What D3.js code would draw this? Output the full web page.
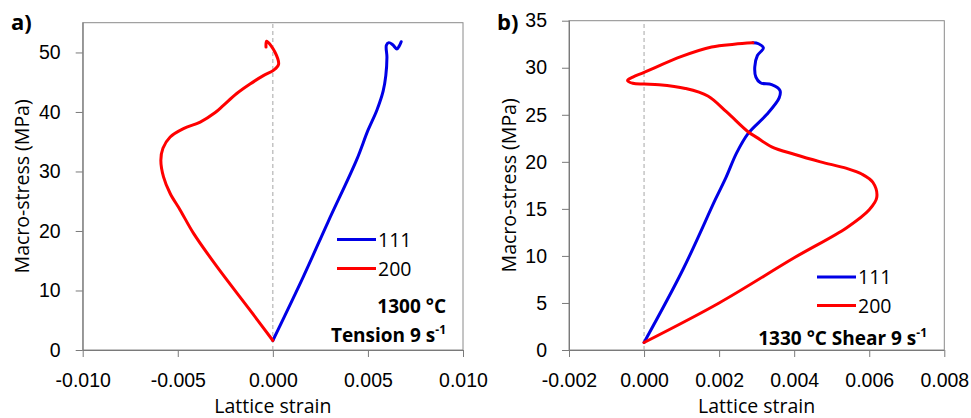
<!DOCTYPE html>
<html>
<head>
<meta charset="utf-8">
<script src="https://cdn.jsdelivr.net/npm/d3@7"></script>
<style>
  body { margin: 0; background: #fff; }
  svg { display: block; font-family: "Open Sans", sans-serif; }
  .tick text { font-size: 19.5px; fill: #000; }
</style>
</head>
<body>
<svg id="chart"></svg>
<script>
//SET CONSTANTS
const width = 971;
const height = 418;

// tick labels
const tensionXTicks = [-0.010, -0.005, 0.000, 0.005, 0.010];
const tensionYTicks = [0, 10, 20, 30, 40, 50];
const shearXTicks = [-0.002, 0.000, 0.002, 0.004, 0.006, 0.008];
const shearYTicks = [0, 5, 10, 15, 20, 25, 30, 35];

const seriesNames = ["111", "200"];

// a) tension 1300 C : [lattice strain, macro-stress MPa]
const tension111 = [
  [0.0000, 1.6], [0.0016, 12.3], [0.0029, 21.5], [0.0044, 31.9],
  [0.0050, 36.9], [0.00547, 40.3], [0.0058, 43.5], [0.00594, 46.1], [0.0060, 49.2],
  [0.00597, 51.2], [0.0061, 51.65], [0.0063, 51.3], [0.00652, 50.6], [0.00665, 51.1],
  [0.00675, 51.8]
];
const tension200 = [
  [0.0000, 1.6], [-0.0012, 6.7], [-0.00294, 14.0], [-0.00417, 19.6], [-0.00487, 23.5],
  [-0.0054, 26.3], [-0.00575, 29.1], [-0.00589, 31.9], [-0.00578, 33.9], [-0.0054, 35.8],
  [-0.0047, 37.2], [-0.00382, 38.3], [-0.00303, 39.9], [-0.0026, 41.1], [-0.0019, 43.1],
  [-0.0012, 44.7], [-0.0005, 46.1], [0.00003, 47.0], [0.0003, 48.0], [0.00012, 50.0],
  [-0.00033, 51.9], [-0.00036, 50.9]
];

// b) shear 1330 C
const shear111 = [
  [0.0000, 0.8], [0.00103, 8.5], [0.0019, 16.0], [0.00219, 18.4], [0.00246, 20.9],
  [0.00277, 23.0], [0.00326, 25.0], [0.0036, 26.8], [0.00362, 27.6], [0.0034, 28.2],
  [0.0031, 28.4], [0.00298, 29.0], [0.00295, 30.1], [0.00302, 31.3], [0.00318, 32.1],
  [0.00305, 32.55], [0.0029, 32.65]
];
const shear200 = [
  [0.0000, 0.8], [0.0020, 5.0], [0.0040, 9.8], [0.0054, 13.0], [0.0060, 14.9],
  [0.0062, 16.2], [0.0061, 17.8], [0.0058, 18.7], [0.0054, 19.3], [0.0047, 20.0],
  [0.0040, 20.8], [0.0034, 21.6], [0.0030, 22.6], [0.00277, 23.2], [0.0022, 25.3],
  [0.0017, 27.0], [0.0011, 27.8], [0.0004, 28.2], [0.0000, 28.27], [-0.0003, 28.35],
  [-0.00044, 28.65], [-0.0003, 29.0], [0.0000, 29.5], [0.0010, 31.2], [0.0018, 32.2],
  [0.0024, 32.5], [0.0029, 32.65]
];

const colors = {"111": "#0000e6", "200": "#ff0000"};

var chart = d3.select("#chart")
              .attr("width", width)
              .attr("height", height);

// one panel of the figure
function drawPanel(p) {
  var xScale = d3.scaleLinear().domain(p.xDomain).range([p.left, p.right]);
  var yScale = d3.scaleLinear().domain(p.yDomain).range([p.bottom, p.top]);

  var g = chart.append("g");

  //plot box
  g.append("rect")
    .attr("x", p.left)
    .attr("y", p.top)
    .attr("width", p.right - p.left)
    .attr("height", p.bottom - p.top)
    .style("fill", "none")
    .style("stroke", "#8a8a8a")
    .style("stroke-width", 1);

  //dashed zero line
  g.append("line")
    .attr("x1", xScale(0)).attr("x2", xScale(0))
    .attr("y1", yScale(p.yDomain[0])).attr("y2", yScale(p.yDomain[1]))
    .style("stroke", "#a6a6a6")
    .style("stroke-width", 1)
    .style("stroke-dasharray", "4,3");

  //axes
  var xAxis = g.append("g")
    .attr("transform", "translate(0," + p.bottom + ")")
    .call(d3.axisBottom(xScale).tickValues(p.xTicks).tickSize(7).tickPadding(16)
      .tickFormat((d) => d.toFixed(3)));
  var yAxis = g.append("g")
    .attr("transform", "translate(" + p.left + ",0)")
    .call(d3.axisLeft(yScale).tickValues(p.yTicks).tickSize(7).tickPadding(15)
      .tickFormat((d) => d));
  g.selectAll(".domain, .tick line").style("stroke", "#7a7a7a");
  xAxis.selectAll(".domain").attr("d", "M" + p.left + ",0.5H" + p.right);
  yAxis.selectAll(".domain").attr("d", "M0.5," + p.bottom + "V" + p.top);

  //axis titles
  g.append("text")
    .attr("x", (p.left + p.right) / 2)
    .attr("y", 413)
    .attr("text-anchor", "middle")
    .style("font-size", "19.5px")
    .text("Lattice strain");
  g.append("text")
    .attr("transform", "translate(" + p.yTitleX + "," + ((p.top + p.bottom) / 2) + ") rotate(-90)")
    .attr("text-anchor", "middle")
    .style("font-size", "19.5px")
    .text("Macro-stress (MPa)");

  //curves
  var line = d3.line()
    .x((d) => xScale(d[0]))
    .y((d) => yScale(d[1]))
    .curve(d3.curveCatmullRom.alpha(0.5));

  seriesNames.forEach(function(name, i) {
    g.append("path")
      .datum(p.series[i])
      .attr("d", line)
      .style("fill", "none")
      .style("stroke", colors[name])
      .style("stroke-width", 3)
      .style("stroke-linejoin", "round")
      .style("stroke-linecap", "round");

    //legend
    let ly = p.legendY + i * p.legendGap;
    g.append("line")
      .attr("x1", p.legendX).attr("x2", p.legendX + 39)
      .attr("y1", ly).attr("y2", ly)
      .style("stroke", colors[name])
      .style("stroke-width", 3);
    g.append("text")
      .attr("x", p.legendX + 41)
      .attr("y", ly + 7)
      .style("font-size", "19.5px")
      .text(name);
  });

  //panel letter
  g.append("text")
    .attr("x", p.labelX)
    .attr("y", p.labelY)
    .style("font-size", "22px")
    .style("font-weight", "bold")
    .text(p.label);

  //condition note
  p.notes.forEach(function(n) {
    var t = g.append("text")
      .attr("x", p.noteX)
      .attr("y", n.y)
      .attr("text-anchor", "end")
      .style("font-size", "19px")
      .style("font-weight", "bold")
      .text(n.text);
    if (n.sup) {
      t.append("tspan")
        .attr("dy", -8)
        .style("font-size", "12px")
        .text(n.sup);
    }
  });
}

drawPanel({
  label: "a)", labelX: 11, labelY: 30,
  left: 82.7, right: 463, top: 22.7, bottom: 350,
  xDomain: [-0.010, 0.010], yDomain: [0, 55],
  xTicks: tensionXTicks, yTicks: tensionYTicks,
  yTitleX: 29,
  series: [tension111, tension200],
  legendX: 337, legendY: 239.5, legendGap: 29,
  noteX: 446,
  notes: [{text: "1300 °C", y: 313}, {text: "Tension 9 s", sup: "-1", y: 342}]
});

drawPanel({
  label: "b)", labelX: 497, labelY: 30,
  left: 569, right: 944.3, top: 20.7, bottom: 350,
  xDomain: [-0.002, 0.008], yDomain: [0, 35],
  xTicks: shearXTicks, yTicks: shearYTicks,
  yTitleX: 516,
  series: [shear111, shear200],
  legendX: 817, legendY: 277, legendGap: 28.5,
  noteX: 927,
  notes: [{text: "1330 °C Shear 9 s", sup: "-1", y: 345}]
});
</script>
</body>
</html>
